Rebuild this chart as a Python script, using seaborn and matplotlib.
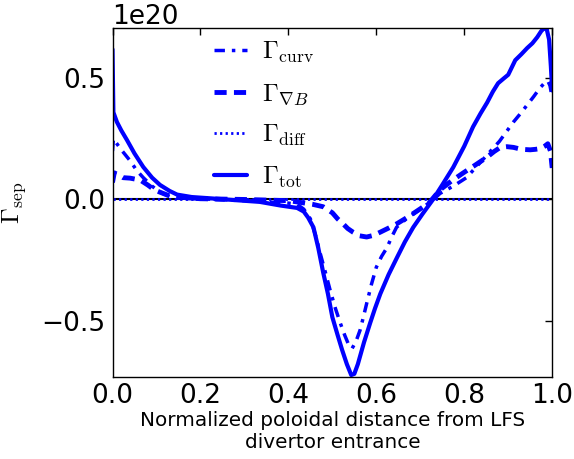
import matplotlib
matplotlib.use('Agg')
import matplotlib.pyplot as plt
import seaborn as sns
import numpy as np

# ── Data (units of 1e20) ─────────────────────────────────
x_tot = [0.0, 0.002, 0.01, 0.02, 0.033, 0.05, 0.07, 0.09, 0.108, 0.13, 0.147,
         0.18, 0.22, 0.335, 0.382, 0.42, 0.435, 0.445, 0.457, 0.468, 0.479,
         0.49, 0.50, 0.512, 0.522, 0.533, 0.543, 0.55, 0.558, 0.572, 0.586,
         0.597, 0.609, 0.628, 0.647, 0.665, 0.684, 0.705, 0.729, 0.75, 0.775,
         0.80, 0.82, 0.837, 0.852, 0.865, 0.877, 0.89, 0.90, 0.908, 0.916,
         0.93, 0.943, 0.955, 0.966, 0.975, 0.982, 0.988, 0.993, 0.997, 1.0]
y_tot = [0.62, 0.36, 0.32, 0.285, 0.245, 0.19, 0.134, 0.09, 0.06, 0.035, 0.02,
         0.01, 0.005, -0.01, -0.025, -0.035, -0.05, -0.075, -0.115, -0.20, -0.30,
         -0.39, -0.486, -0.56, -0.62, -0.68, -0.725, -0.72, -0.68, -0.59, -0.51,
         -0.45, -0.39, -0.31, -0.24, -0.175, -0.115, -0.06, 0.0, 0.06, 0.133,
         0.22, 0.30, 0.355, 0.40, 0.445, 0.48, 0.50, 0.515, 0.545, 0.575,
         0.60, 0.625, 0.645, 0.67, 0.695, 0.708, 0.70, 0.66, 0.55, 0.45]

x_curv = [0.0, 0.002, 0.02, 0.04, 0.055, 0.07, 0.09, 0.108, 0.13, 0.15, 0.3,
          0.4, 0.42, 0.435, 0.45, 0.462, 0.472, 0.484, 0.495, 0.507, 0.518,
          0.528, 0.536, 0.545, 0.554, 0.563, 0.57, 0.578, 0.589, 0.60, 0.612,
          0.624, 0.635, 0.646, 0.665, 0.684, 0.708, 0.73, 0.745, 0.775, 0.805,
          0.83, 0.855, 0.88, 0.896, 0.912, 0.928, 0.943, 0.958, 0.972, 0.982,
          0.99, 0.995, 1.0]
y_curv = [0.20, 0.25, 0.205, 0.16, 0.12, 0.09, 0.055, 0.03, 0.012, 0.005, -0.005,
          -0.015, -0.02, -0.04, -0.08, -0.15, -0.22, -0.30, -0.375, -0.45, -0.51,
          -0.56, -0.595, -0.615, -0.585, -0.54, -0.49, -0.43, -0.35, -0.28, -0.235,
          -0.20, -0.155, -0.115, -0.085, -0.06, -0.03, 0.0, 0.025, 0.055, 0.09,
          0.14, 0.19, 0.24, 0.28, 0.32, 0.355, 0.39, 0.425, 0.46, 0.48,
          0.49, 0.47, 0.42]

x_gradb = [0.0, 0.004, 0.015, 0.024, 0.04, 0.063, 0.08, 0.095, 0.108, 0.125,
           0.147, 0.2, 0.3, 0.4, 0.427, 0.455, 0.479, 0.5, 0.512, 0.524, 0.535,
           0.547, 0.562, 0.578, 0.594, 0.609, 0.628, 0.647, 0.665, 0.684, 0.703,
           0.722, 0.745, 0.77, 0.798, 0.825, 0.852, 0.868, 0.882, 0.897, 0.912,
           0.93, 0.95, 0.962, 0.973, 0.983, 0.99, 0.996, 1.0]
y_gradb = [0.07, 0.11, 0.10, 0.09, 0.088, 0.08, 0.06, 0.04, 0.03, 0.018,
           0.01, 0.003, 0.0, -0.005, -0.012, -0.02, -0.03, -0.055, -0.08, -0.10, -0.12,
           -0.135, -0.15, -0.155, -0.148, -0.135, -0.118, -0.10, -0.08, -0.058, -0.035,
           -0.01, 0.04, 0.075, 0.11, 0.142, 0.175, 0.198, 0.215, 0.218, 0.215,
           0.207, 0.205, 0.207, 0.21, 0.22, 0.23, 0.20, 0.13]

x_diff = [0.0, 0.25, 0.5, 0.75, 1.0]
y_diff = [0.0, 0.0, 0.0, 0.0, 0.0]

scale = 1e20

sns.set_style('white')
plt.rcParams['font.family'] = ['DejaVu Sans']
plt.rcParams['mathtext.fontset'] = 'cm'
plt.rcParams['text.color'] = 'black'
plt.rcParams['axes.labelcolor'] = 'black'
plt.rcParams['xtick.color'] = 'black'
plt.rcParams['ytick.color'] = 'black'

fig = plt.figure(figsize=(5.74, 4.59), dpi=100)
ax = fig.add_axes([0.196, 0.1787, 0.766, 0.7603])

ax.axhline(0, color='black', lw=1.5, zorder=1)

sns.lineplot(x=x_curv, y=np.array(y_curv) * scale, ax=ax, color='blue', lw=2.5,
             label=r'$\Gamma_{\rm curv}$', sort=False,
             linestyle=(0, (3, 2, 1, 2)))
sns.lineplot(x=x_gradb, y=np.array(y_gradb) * scale, ax=ax, color='blue', lw=3.5,
             linestyle=(0, (2.5, 1.5)), label=r'$\Gamma_{\nabla B}$', sort=False)
sns.lineplot(x=x_diff, y=np.array(y_diff) * scale, ax=ax, color='blue', lw=2,
             linestyle=(0, (0.8, 1.2)), label=r'$\Gamma_{\rm diff}$', sort=False)
sns.lineplot(x=x_tot, y=np.array(y_tot) * scale, ax=ax, color='blue', lw=3,
             linestyle='-', label=r'$\Gamma_{\rm tot}$', sort=False)

ax.set_xlim(0, 1)
ax.set_ylim(-0.733 * scale, 0.708 * scale)
ax.set_xticks([0.0, 0.2, 0.4, 0.6, 0.8, 1.0])
ax.set_yticks([-0.5e20, 0.0, 0.5e20])
ax.ticklabel_format(axis='y', style='sci', scilimits=(20, 20), useMathText=False)
ax.tick_params(direction='in', top=True, right=True, labelsize=19, length=5,
               width=1)
ax.tick_params(axis='x', pad=4)
ax.tick_params(axis='y', pad=5)
ax.yaxis.get_offset_text().set_fontsize(19)
for s in ax.spines.values():
    s.set_color('black')
    s.set_linewidth(1)

ax.set_xlabel('Normalized poloidal distance from LFS\ndivertor entrance',
              fontsize=14.4, labelpad=2)
ax.set_ylabel(r'$\Gamma_{\rm sep}$', fontsize=18, labelpad=10)

ax.legend(loc='upper left', bbox_to_anchor=(0.18, 1.03), frameon=False,
          fontsize=18, handlelength=1.3, labelspacing=0.65, handletextpad=0.6)

fig.savefig('out.png', dpi=100)
